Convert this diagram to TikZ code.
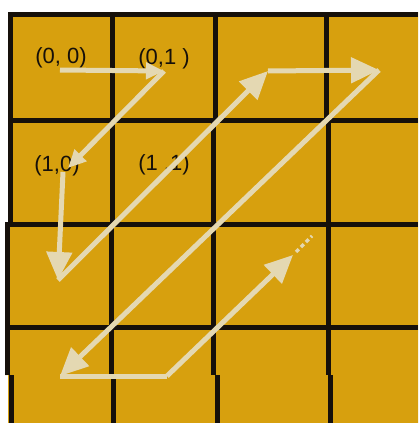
\documentclass[tikz,border=0pt]{standalone}
\usepackage{fontspec}
\setmainfont{Liberation Sans}
\usetikzlibrary{arrows.meta}
\definecolor{gold}{RGB}{215,160,14}
\definecolor{cream}{RGB}{228,216,178}
\definecolor{ink}{RGB}{22,16,10}
\begin{document}
\begin{tikzpicture}[x=1pt,y=-1pt,
  gridline/.style={ink,line width=5pt},
  zz/.style={cream,line width=5pt},
  bighead/.style={-{Triangle[length=28pt,width=25pt]}},
  smallhead/.style={-{Triangle[length=18pt,width=16pt]}},
  lbl/.style={font=\fontsize{22}{26}\selectfont, text=ink, inner sep=0pt}]
\useasboundingbox (0,0) rectangle (418,423);
\fill[white] (0,0) rectangle (418,423);
\fill[gold] (8,12) -- (418,12) -- (418,423) -- (8,423) -- (8,375) -- (5,375) -- (5,225) -- (8,225) -- cycle;
% grid
\draw[gridline] (8,14.5) -- (418,14.5);
\draw[gridline] (8,120) -- (418,120);
\draw[gridline] (5,224.5) -- (418,224.5);
\draw[gridline] (5,327.5) -- (418,327.5);
\draw[gridline] (10.5,12) -- (10.5,225);
\draw[gridline] (7.5,222) -- (7.5,375);
\draw[gridline] (11.5,375) -- (11.5,423);
\draw[gridline] (112.5,12) -- (112.5,225);
\draw[gridline] (111,222) -- (111,375);
\draw[gridline] (113.5,375) -- (113.5,423);
\draw[gridline] (215.5,12) -- (215.5,122);
\draw[gridline] (213.5,118) -- (213.5,375);
\draw[gridline] (217.5,375) -- (217.5,423);
\draw[gridline] (326.5,12) -- (326.5,122);
\draw[gridline] (328.5,118) -- (328.5,375);
\draw[gridline] (330,375) -- (330,423);
% labels
\node[lbl] (l00) at (61,58) {(0, 0)};
\node[lbl] (l01) at (164,59) {(0,1 )};
\node[lbl] (l10) at (57,166) {(1,0)};
\node[lbl] (l11) at (164,165) {(1 ,1)};
% zigzag points
\coordinate (c00) at (60,70);
\coordinate (c01) at (164,71);
\coordinate (c10) at (68,168);
\coordinate (c10b) at (63,172);
\coordinate (c20) at (58,280);
\coordinate (c02) at (268,71);
\coordinate (c03) at (379,70);
\coordinate (c30) at (60,376);
\coordinate (c31) at (167,376);
\coordinate (c22) at (293,255);
\coordinate (c22b) at (296,252);
\coordinate (tail) at (312,236);
% zigzag arrows
\draw[zz,smallhead] (c00) -- (c01);
\draw[zz,smallhead] (c01) -- (c10);
\draw[zz,bighead] (c10b) -- (c20);
\draw[zz,bighead] (c20) -- (c02);
\draw[zz,bighead] (c02) -- (c03);
\draw[zz,bighead] (c03) -- (c30);
\draw[zz] (c30) -- (c31);
\draw[zz,bighead] (c31) -- (c22);
\draw[cream,line width=3.5pt,dash pattern=on 4pt off 3pt] (c22b) -- (tail);
\end{tikzpicture}
\end{document}
